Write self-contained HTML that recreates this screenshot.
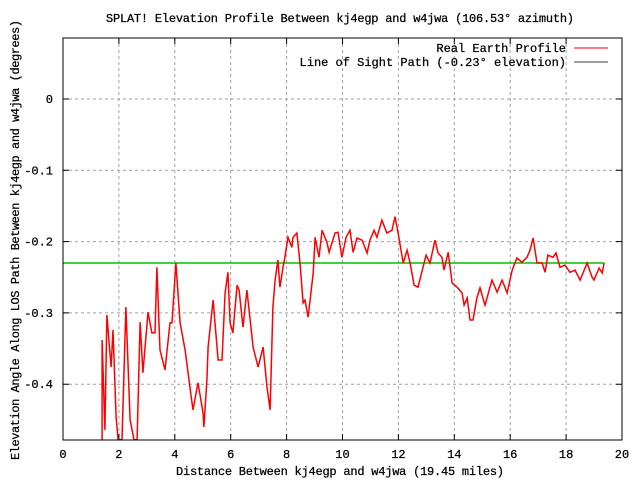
<!DOCTYPE html>
<html><head><meta charset="utf-8"><style>body{margin:0;background:#fff}svg text{font-family:"Liberation Mono",monospace;font-size:12px;fill:#000;stroke:#000;stroke-width:0.25}</style></head>
<body>
<svg id="c" width="640" height="480" xmlns="http://www.w3.org/2000/svg">
<rect width="640" height="480" fill="#fff"/>
<text x="340" y="22" text-anchor="middle" textLength="468">SPLAT! Elevation Profile Between kj4egp and w4jwa (106.53° azimuth)</text>
<text x="340" y="475" text-anchor="middle" textLength="328">Distance Between kj4egp and w4jwa (19.45 miles)</text>
<text transform="translate(19,240) rotate(-90)" text-anchor="middle" textLength="440">Elevation Angle Along LOS Path Between kj4egp and w4jwa (degrees)</text>
<g id="grid"></g><g id="ticks"></g>
<defs><clipPath id="clip"><rect x="63" y="38" width="559" height="402"/></clipPath></defs>
<g clip-path="url(#clip)" id="series"></g>
<rect x="63" y="38" width="559" height="402" fill="none" stroke="#000"/>
<g>
<text x="566" y="52" text-anchor="end">Real Earth Profile</text>
<line x1="574" y1="48" x2="608" y2="48" stroke="#f00"/>
<text x="566" y="66" text-anchor="end">Line of Sight Path (-0.23° elevation)</text>
<line x1="574" y1="62" x2="608" y2="62" stroke="#404040"/>
</g>
</svg>
<script>
const xTicks=[0,2,4,6,8,10,12,14,16,18,20];
const yTicks=[0,-0.1,-0.2,-0.3,-0.4];
const yTickLabels=["0","-0.1","-0.2","-0.3","-0.4"];
const losElevation=-0.23;
const losStart=0, losEnd=19.36;
const profileDist=[1.40,1.40,1.50,1.57,1.72,1.79,1.90,1.97,2.11,2.25,2.40,2.54,2.65,2.76,2.86,3.04,3.18,3.29,3.36,3.47,3.65,3.83,3.90,4.04,4.19,4.37,4.54,4.65,4.83,5.01,5.04,5.15,5.19,5.37,5.55,5.69,5.80,5.90,5.98,6.08,6.23,6.30,6.44,6.58,6.80,6.98,7.16,7.30,7.41,7.51,7.59,7.69,7.76,7.87,7.94,8.05,8.19,8.23,8.37,8.48,8.59,8.66,8.77,8.84,8.95,9.02,9.16,9.27,9.45,9.52,9.73,9.84,9.98,10.13,10.27,10.38,10.52,10.70,10.88,10.98,11.13,11.23,11.41,11.59,11.77,11.88,11.99,12.17,12.31,12.42,12.56,12.70,12.88,12.99,13.13,13.31,13.42,13.56,13.63,13.78,13.92,14.10,14.28,14.35,14.46,14.56,14.67,14.81,14.92,15.10,15.35,15.53,15.71,15.89,16.07,16.24,16.42,16.60,16.71,16.82,16.96,17.14,17.25,17.35,17.53,17.64,17.78,17.96,18.14,18.32,18.50,18.75,18.93,19.00,19.18,19.29,19.36];
const profileAngle=[-0.478,-0.338,-0.464,-0.303,-0.376,-0.324,-0.446,-0.478,-0.478,-0.292,-0.450,-0.478,-0.478,-0.313,-0.384,-0.299,-0.328,-0.328,-0.236,-0.352,-0.380,-0.314,-0.314,-0.230,-0.314,-0.352,-0.404,-0.436,-0.398,-0.440,-0.460,-0.394,-0.348,-0.282,-0.366,-0.366,-0.272,-0.243,-0.314,-0.328,-0.261,-0.268,-0.320,-0.268,-0.348,-0.376,-0.348,-0.404,-0.436,-0.292,-0.254,-0.226,-0.264,-0.236,-0.222,-0.194,-0.208,-0.194,-0.188,-0.230,-0.286,-0.282,-0.306,-0.282,-0.244,-0.194,-0.222,-0.184,-0.202,-0.215,-0.188,-0.187,-0.222,-0.194,-0.184,-0.215,-0.195,-0.198,-0.216,-0.198,-0.184,-0.194,-0.170,-0.188,-0.184,-0.165,-0.188,-0.230,-0.212,-0.230,-0.261,-0.264,-0.236,-0.219,-0.230,-0.198,-0.216,-0.222,-0.240,-0.215,-0.258,-0.264,-0.272,-0.289,-0.279,-0.310,-0.310,-0.279,-0.265,-0.289,-0.254,-0.271,-0.254,-0.272,-0.240,-0.223,-0.229,-0.222,-0.212,-0.195,-0.230,-0.230,-0.243,-0.219,-0.222,-0.216,-0.236,-0.233,-0.243,-0.240,-0.254,-0.230,-0.250,-0.254,-0.237,-0.244,-0.230];
const NS="http://www.w3.org/2000/svg";
const X=v=>63+v*27.95;
const Y=v=>99-v*713;
function mk(tag,attrs,parent){const e=document.createElementNS(NS,tag);for(const k in attrs)e.setAttribute(k,attrs[k]);parent.appendChild(e);return e;}
const grid=document.getElementById('grid'),ticks=document.getElementById('ticks'),series=document.getElementById('series');
xTicks.forEach(t=>{const x=X(t);
 if(t>0&&t<20){const g=mk('line',{x1:x,y1:38,x2:x,y2:440,stroke:'#a0a0a0','stroke-dasharray':'3,3'},grid);
 
 }
 const tk=mk('path',{d:`M${x},440v-6M${x},38v6`,stroke:'#000'},ticks);
 
 
 const l=mk('text',{x:x,y:458,'text-anchor':'middle'},ticks);l.textContent=t;
 
 
});
yTicks.forEach((t,i)=>{const y=Y(t);
 const g=mk('line',{x1:63,y1:y,x2:622,y2:y,stroke:'#a0a0a0','stroke-dasharray':'3,3'},grid);
 
 
 const tk=mk('path',{d:`M63,${y}h6M622,${y}h-6`,stroke:'#000'},ticks);
 
 
 const l=mk('text',{x:53,y:y+4,'text-anchor':'end'},ticks);l.textContent=yTickLabels[i];
 
 
});
const los=mk('line',{x1:X(losStart),y1:Y(losElevation),x2:X(losEnd),y2:Y(losElevation),stroke:'#00c000','stroke-width':1.4},series);


const pts=profileDist.map((d,i)=>X(d).toFixed(1)+','+Y(profileAngle[i]).toFixed(1)).join(' ');
const pl=mk('polyline',{points:pts,fill:'none',stroke:'#f00','stroke-width':1.5},series);


</script>
</body></html>
